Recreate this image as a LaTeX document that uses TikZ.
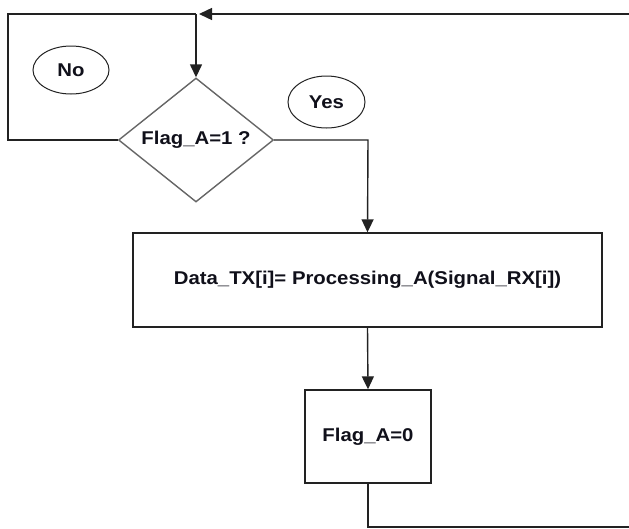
\documentclass[tikz,border=0pt]{standalone}
\usepackage{fontspec}
\setmainfont{Liberation Sans}[FakeStretch=1.1]
\usetikzlibrary{shapes.geometric,arrows.meta}
\definecolor{linec}{HTML}{222222}
\definecolor{diac}{HTML}{666666}
\definecolor{txtc}{HTML}{10101A}
\tikzset{
  lbl/.style={font=\bfseries\fontsize{18.5}{22}\selectfont, text=txtc},
  boxnode/.style={draw=linec, line width=1.4pt, rectangle, inner sep=0pt, lbl},
  decision/.style={draw=diac, line width=1.4pt, diamond, inner sep=0pt, aspect=1.25, lbl},
  tag/.style={draw=linec, line width=1pt, ellipse, inner sep=0pt, lbl},
  conn/.style={draw=linec, line width=1.4pt},
  arr/.style={conn, -{Triangle[length=13pt,width=12pt]}}
}
\begin{document}
\begin{tikzpicture}[x=1pt,y=-1pt]
\useasboundingbox (0,0) rectangle (629,528);
\node[decision, minimum width=155pt, minimum height=124pt] (dia) at (196,140) {Flag\_A=1 ?};
\node[boxnode, minimum width=469pt, minimum height=94pt] (proc) at (367.5,280) {Data\_TX[i]= Processing\_A(Signal\_RX[i])};
\node[boxnode, minimum width=126pt, minimum height=93pt] (flag) at (368,436.5) {Flag\_A=0};
\node[tag, minimum width=76pt, minimum height=48pt] (no) at (71,70) {No};
\node[tag, minimum width=77pt, minimum height=52pt] (yes) at (326.5,102) {Yes};
\coordinate (join) at (196,14);
\coordinate (tl) at (8,14);
\coordinate (tr) at (640,14);
\coordinate (br) at (640,527);
\coordinate (yturn) at (368,140);
% loop back from bottom
\draw[conn] (flag.south) |- (br);
\draw[arr] (tr) -- ([xshift=3pt]join);
% No branch
\draw[conn] (dia.west) -| (tl) -- (join);
% into decision
\draw[arr] (join) -- (dia.north);
% Yes branch
\draw[arr] (dia.east) -- (yturn) -- (proc.north);
% processing to flag
\draw[arr] (proc.south) -- (flag.north);
\end{tikzpicture}
\end{document}
